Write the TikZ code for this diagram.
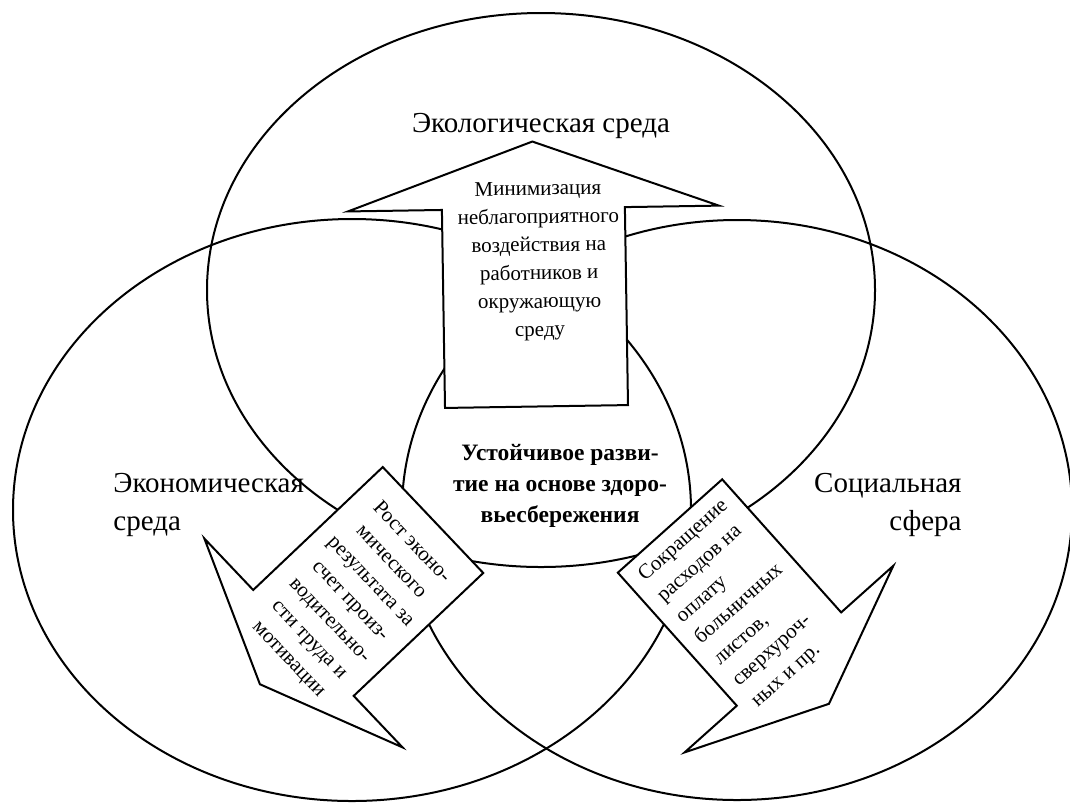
\documentclass[tikz,border=0pt]{standalone}
\usepackage{fontspec}
\setmainfont{Liberation Serif}
\usetikzlibrary{positioning}

\begin{document}
\begin{tikzpicture}[x=0.5pt, y=-0.5pt,
    zone/.style={line width=1pt},
    arrowshape/.style={draw, line width=1pt, fill=white, line join=miter},
    biglabel/.style={font=\fontsize{14.5}{19}\selectfont, inner sep=0pt},
    arrowtext/.style={font=\fontsize{10.5}{14.1}\selectfont, align=center, inner sep=0pt},
    centertext/.style={font=\bfseries\fontsize{11.75}{15.5}\selectfont, align=center, inner sep=0pt}]

    \useasboundingbox (0,0) rectangle (1070,805);

    %ellipses
    \draw [zone] (541,290) ellipse [x radius=334, y radius=277];
    \draw [zone] (352,510) ellipse [x radius=339, y radius=291];
    \draw [zone] (737,510) ellipse [x radius=335, y radius=290];

    %arrows: tail middle / angle / half width / body length / wing / head
    \foreach \cx/\cy/\ang/\w/\len/\wing/\head in
        {536.5/406.5/90.9/91.5/198/94/67,
         433/520/223.5/73/178.6/71/60,
         670/526/-48.2/70/178.5/70/60}
    {
        \begin{scope}[shift={(\cx,\cy)}, rotate=\ang]
            \draw [arrowshape] (0,-\w) -- (\len,-\w) -- (\len,-\w-\wing) -- (\len+\head,0)
                -- (\len,\w+\wing) -- (\len,\w) -- (0,\w) -- cycle;
        \end{scope}
    }

    %arrow texts
    \draw (539,261) node[arrowtext, rotate=0.9] (minim)
        {Минимизация\\неблагоприятного\\воздействия на\\работников и\\окружающую\\среду};
    \draw (350,601) node[arrowtext, rotate=-46.5] (rost)
        {Рост эконо-\\мического\\результата за\\счет произ-\\водительно-\\сти труда и\\мотивации};
    \draw (740,604) node[arrowtext, align=left, rotate=41.8] (sokr)
        {Сокращение\\расходов на\\оплату\\больничных\\листов,\\сверхуроч-\\ных и пр.};

    %labels
    \draw (541,126) node[biglabel] (ecol) {Экологическая среда};
    \draw (113,505) node[biglabel, right, align=left] (econ) {Экономическая\\среда};
    \draw (962,505) node[biglabel, left, align=right] (soc) {Социальная\\сфера};
    \draw (560,486) node[centertext] (center)
        {Устойчивое разви-\\тие на основе здоро-\\вьесбережения};

\end{tikzpicture}
\end{document}
